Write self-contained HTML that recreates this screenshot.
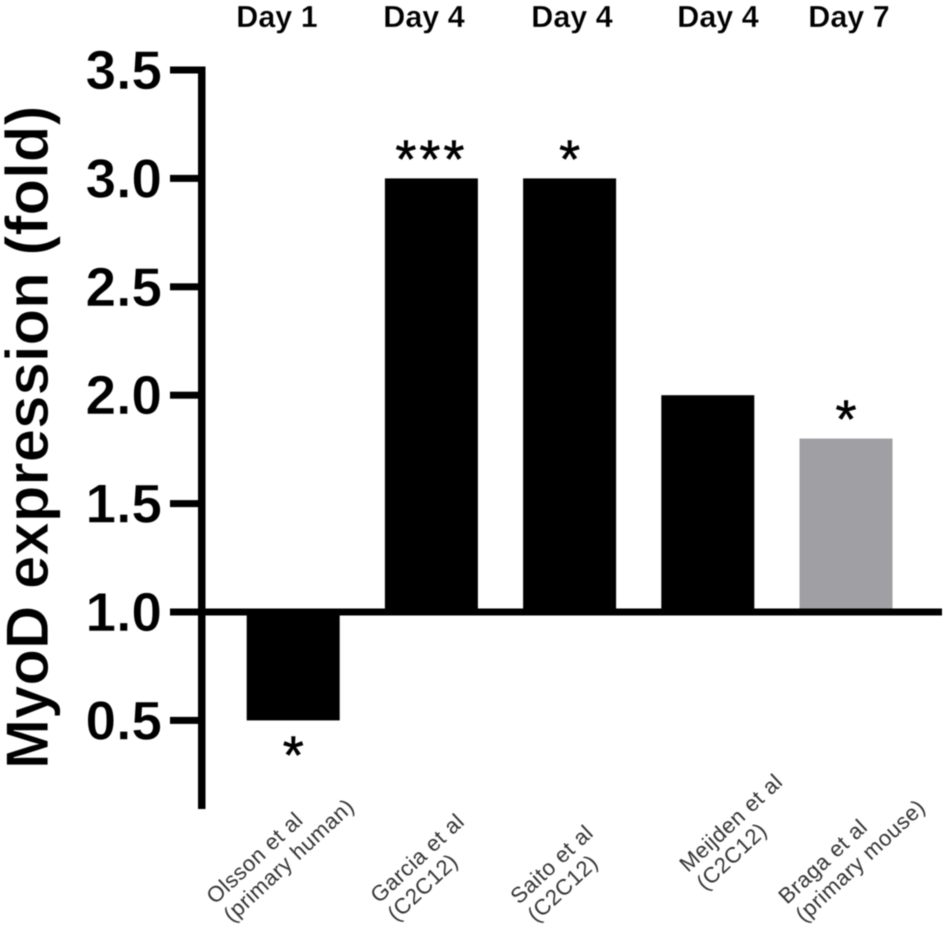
<!DOCTYPE html>
<html lang="en">
<head>
<meta charset="utf-8">
<title>MyoD expression (fold)</title>
<style>
html,body{margin:0;padding:0;background:#fff;}
svg{display:block;font-family:"Liberation Sans",Arial,sans-serif;filter:blur(0.5px);}
.day{font-size:30.5px;font-weight:bold;text-anchor:middle;fill:#000;stroke:#fff;stroke-width:.3px;}
.tick{font-size:55px;font-weight:bold;text-anchor:end;fill:#000;stroke:#fff;stroke-width:.6px;}
.title{font-size:60px;font-weight:bold;fill:#000;stroke:#fff;stroke-width:.8px;}
.cat{font-size:22px;letter-spacing:.5px;fill:#333;}
.star{font-size:54px;text-anchor:middle;fill:#000;stroke:#000;stroke-width:.6px;}
.star-multi{letter-spacing:3px;}
</style>
</head>
<body>
<svg id="chart" width="945" height="933" viewBox="0 0 945 933" xmlns="http://www.w3.org/2000/svg">
  <rect width="945" height="933" fill="#ffffff"/>
  <g id="marks"></g>
  <g id="axes"></g>
  <text class="title" transform="translate(48,769) rotate(-90)">MyoD expression (fold)</text>
  <text class="day" x="277" y="27">Day 1</text>
  <text class="day" x="424" y="27">Day 4</text>
  <text class="day" x="572" y="27">Day 4</text>
  <text class="day" x="718" y="27">Day 4</text>
  <text class="day" x="849" y="27">Day 7</text>
  <g transform="translate(215,905) rotate(-43)">
    <text class="cat" x="0" y="0">Olsson et al</text><text class="cat" x="0" y="25">(primary human)</text>
  </g>
  <g transform="translate(379,904) rotate(-43)">
    <text class="cat" x="0" y="0">Garcia et al</text><text class="cat" x="0" y="25">(C2C12)</text>
  </g>
  <g transform="translate(519,905) rotate(-43)">
    <text class="cat" x="0" y="0">Saito et al</text><text class="cat" x="0" y="25">(C2C12)</text>
  </g>
  <g transform="translate(688,873) rotate(-43)">
    <text class="cat" x="0" y="0">Meijden et al</text><text class="cat" x="0" y="25">(C2C12)</text>
  </g>
  <g transform="translate(787,905) rotate(-43)">
    <text class="cat" x="0" y="0">Braga et al</text><text class="cat" x="0" y="25">(primary mouse)</text>
  </g>
</svg>
<script>
const categories = ['olsson', 'garcia', 'saito', 'meijden', 'braga'];
const values = [0.5, 3.0, 3.0, 2.0, 1.8];
const significance = ['*', '***', '*', '', '*'];
const barColors = ['#000000', '#000000', '#000000', '#000000', '#a0a0a4'];
const tickValues = [0.5, 1.0, 1.5, 2.0, 2.5, 3.0, 3.5];

const NS = 'http://www.w3.org/2000/svg';
const marks = document.getElementById('marks');
const axes = document.getElementById('axes');
const BASE = 1.0;

function y(v) { return 612 - (v - BASE) * 216.8; }
function x(i) { return 293.2 + i * 138.2; }
const BAR_WIDTH = 93;

function make(parent, tag, attrs) {
  const el = document.createElementNS(NS, tag);
  for (const k in attrs) el.setAttribute(k, attrs[k]);
  parent.appendChild(el);
  return el;
}

categories.forEach(function (name, i) {
  const top = Math.min(y(values[i]), y(BASE));
  const bottom = Math.max(y(values[i]), y(BASE));
  const bar = make(marks, 'rect', { x: x(i) - BAR_WIDTH / 2, y: top, width: BAR_WIDTH, height: bottom - top, fill: barColors[i] });
  
  
  if (significance[i]) {
    const below = values[i] < BASE;
    const star = make(marks, 'text', { class: significance[i].length > 1 ? 'star star-multi' : 'star', x: x(i), y: below ? bottom + 53 : top - 1 });
    
    
    star.textContent = significance[i];
  }
});

const spine = make(axes, 'rect', { x: 198, y: y(3.5) - 3.5, width: 7.5, height: 809 - y(3.5) + 3.5, fill: '#000' });



const baseline = make(axes, 'rect', { x: 170, y: y(BASE) - 3.5, width: 772, height: 7, fill: '#000' });



tickValues.forEach(function (t) {
  const tick = make(axes, 'rect', { x: 170, y: y(t) - 3.5, width: 30, height: 7, fill: '#000' });
  
  
  const label = make(axes, 'text', { class: 'tick', x: 162, y: y(t) + 19 });
  
  
  label.textContent = t.toFixed(1);
});
</script>
</body>
</html>
